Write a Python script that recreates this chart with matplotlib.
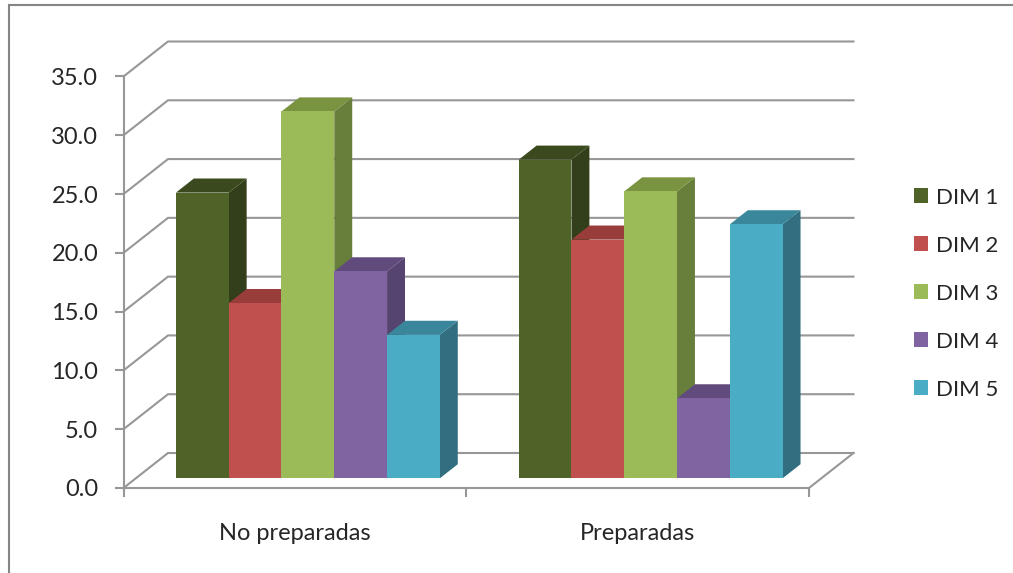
import matplotlib
matplotlib.use("Agg")
import matplotlib.pyplot as plt
from matplotlib.patches import Patch, Polygon

plt.rcParams["font.family"] = ["Lato", "DejaVu Sans"]

categories = ["No preparadas", "Preparadas"]
series_names = ["DIM 1", "DIM 2", "DIM 3", "DIM 4", "DIM 5"]
no_preparadas = [24.3, 14.9, 31.2, 17.6, 12.2]
preparadas = [27.1, 20.3, 24.4, 6.8, 21.6]
y_ticks = [0, 5, 10, 15, 20, 25, 30, 35]

front_colors = ["#4F6228", "#C0504D", "#9BBB59", "#8064A2", "#4BACC6"]
side_colors = ["#333F1A", "#7F3432", "#677F3A", "#554370", "#306E80"]
top_colors = ["#3B4A1E", "#993D3A", "#7A9341", "#614B7D", "#3A879C"]
GRID = "#979797"
TEXT = "#262626"

W, H = 1013, 573
LEFT, RIGHT, BOTTOM, TOP = 123.5, 809, 488, 76.5

# oblique projection of the box, in data units (categories / values)
DEPTH_X = 44.5 / ((RIGHT - LEFT) / 2)
DEPTH_Y = 35 * 35 / (BOTTOM - TOP)
BAR_FRONT, BAR_BACK = 0.277, 0.68
BAR_WIDTH = 0.154
GROUP_CENTER = 0.502


def project(x, v, d):
    return (x + d * DEPTH_X, v + d * DEPTH_Y)


fig = plt.figure(figsize=(W / 100, H / 100), dpi=100)
ax = fig.add_axes([LEFT / W, 1 - BOTTOM / H, (RIGHT - LEFT) / W, (BOTTOM - TOP) / H])
ax.set_xlim(0, 2)
ax.set_ylim(0, 35)
ax.patch.set_alpha(0)

for name in ["top", "right"]:
    ax.spines[name].set_visible(False)
for name in ["left", "bottom"]:
    ax.spines[name].set_color(GRID)
    ax.spines[name].set_linewidth(1.5)

# walls and floor
for v in y_ticks:
    x0, y0 = project(0, v, 0)
    x1, y1 = project(0, v, 1)
    x2, y2 = project(2, v, 1)
    ax.plot([x0, x1, x2], [y0, y1, y2], color=GRID, lw=1.5, clip_on=False, zorder=1,
            solid_joinstyle="miter")
x0, y0 = project(2, 0, 0)
x1, y1 = project(2, 0, 1)
ax.plot([x0, x1], [y0, y1], color=GRID, lw=1.5, clip_on=False, zorder=1)

# bars, left to right so each one covers its neighbour's side face
z = 2
for group, values in enumerate([no_preparadas, preparadas]):
    for k, v in enumerate(values):
        x_left = group + GROUP_CENTER + (k - 2.5) * BAR_WIDTH
        x_right = x_left + BAR_WIDTH
        base = BAR_FRONT * DEPTH_Y

        top_face = [project(x_left, v, BAR_FRONT), project(x_right, v, BAR_FRONT),
                    project(x_right, v, BAR_BACK), project(x_left, v, BAR_BACK)]
        side_face = [project(x_right, 0, BAR_FRONT), project(x_right, v, BAR_FRONT),
                     project(x_right, v, BAR_BACK), project(x_right, 0, BAR_BACK)]
        ax.add_patch(Polygon(side_face, closed=True, fc=side_colors[k], ec="none", clip_on=False, zorder=z))
        ax.add_patch(Polygon(top_face, closed=True, fc=top_colors[k], ec="none", clip_on=False, zorder=z))
        ax.bar(x_left + BAR_FRONT * DEPTH_X, v, width=BAR_WIDTH, bottom=base, align="edge",
               color=front_colors[k], clip_on=False, zorder=z + 1)
        z += 2

# ticks
ax.set_yticks(y_ticks)
ax.set_yticklabels([f"{v:.1f}" for v in y_ticks], fontsize=17, color=TEXT)
ax.tick_params(axis="y", length=6.2, width=1.5, color=GRID, pad=12)
ax.set_xticks([0, 1, 2])
ax.set_xticklabels([])
ax.tick_params(axis="x", length=6.2, width=1.5, color=GRID)
ax.set_xticks([0.5, 1.5], minor=True)
ax.set_xticklabels(categories, minor=True, fontsize=17, color=TEXT)
ax.tick_params(axis="x", which="minor", length=0, pad=25)

# legend
handles = [Patch(fc=c, ec="none", label=n) for c, n in zip(front_colors, series_names)]
fig.legend(handles=handles, loc="center left", bbox_to_anchor=(914 / W, 1 - 293.5 / H),
           frameon=False, fontsize=16, handlelength=0.63, handleheight=0.63,
           handletextpad=0.36, labelspacing=1.26, borderpad=0, borderaxespad=0,
           labelcolor=TEXT)

# outer chart frame (left and top edges are all that show)
fig.add_artist(plt.Line2D([8.5 / W, 8.5 / W, 1], [0, 1 - 4.5 / H, 1 - 4.5 / H],
                          color="#858585", lw=1.5, solid_joinstyle="miter"))

fig.savefig("out.png", dpi=100)
